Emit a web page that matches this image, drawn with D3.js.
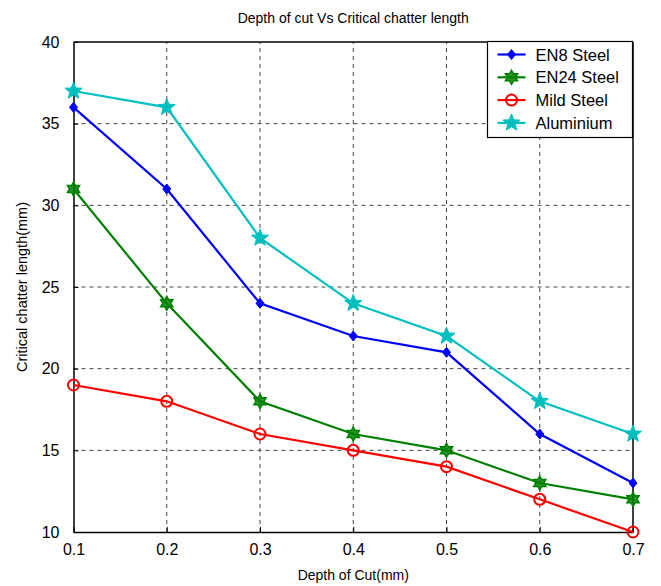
<!DOCTYPE html>
<html>
<head>
<meta charset="utf-8">
<script src="https://cdn.jsdelivr.net/npm/d3@7"></script>
<style>
  html, body { margin: 0; padding: 0; background: #fff; }
  svg { display: block; font-family: "Liberation Sans", Arial, Helvetica, sans-serif; }
</style>
</head>
<body>
<svg id="chart" width="661" height="586"></svg>
<script>
// Depth of cut (mm) on the x axis
const depths = [0.1, 0.2, 0.3, 0.4, 0.5, 0.6, 0.7];

// Critical chatter length (mm) for each material
const en8Steel  = [36, 31, 24, 22, 21, 16, 13];
const en24Steel = [31, 24, 18, 16, 15, 13, 12];
const mildSteel = [19, 18, 16, 15, 14, 12, 10];
const aluminium = [37, 36, 28, 24, 22, 18, 16];

const xTicks = [0.1, 0.2, 0.3, 0.4, 0.5, 0.6, 0.7];
const yTicks = [10, 15, 20, 25, 30, 35, 40];

const seriesNames  = ["EN8 Steel", "EN24 Steel", "Mild Steel", "Aluminium"];
const seriesValues = [en8Steel, en24Steel, mildSteel, aluminium];
const seriesColors = ["#0000ff", "#008000", "#ff0000", "#00bfbf"];
const seriesMarkers = ["diamond", "hexagram", "circle", "pentagram"];

const margin = { left: 73.5, right: 28, top: 42, bottom: 54 };
const W = 661, H = 586;

const svg = d3.select("#chart");
const x = d3.scaleLinear().domain([0.1, 0.7]).range([margin.left, W - margin.right]);
const y = d3.scaleLinear().domain([10, 40]).range([H - margin.bottom, margin.top]);

// Dashed grid lines
const grid = svg.append("g");
grid.selectAll("line.gx").data(xTicks.slice(1, -1)).join("line")
  .attr("x1", d => x(d)).attr("x2", d => x(d))
  .attr("y1", y(10)).attr("y2", y(40))
  .attr("stroke", "#444").attr("stroke-width", 1).attr("stroke-dasharray", "4,4");
grid.selectAll("line.gy").data(yTicks.slice(1, -1)).join("line")
  .attr("x1", x(0.1)).attr("x2", x(0.7))
  .attr("y1", d => y(d)).attr("y2", d => y(d))
  .attr("stroke", "#444").attr("stroke-width", 1).attr("stroke-dasharray", "4,4");

// Axes with inward ticks
const xAxis = svg.append("g").attr("transform", `translate(0,${y(10)})`)
  .call(d3.axisBottom(x).tickValues(xTicks).tickFormat(d3.format(".1f")).tickSizeInner(-5).tickSizeOuter(0).tickPadding(12));
const yAxis = svg.append("g").attr("transform", `translate(${x(0.1)},0)`)
  .call(d3.axisLeft(y).tickValues(yTicks).tickFormat(d3.format("d")).tickSizeInner(-5).tickSizeOuter(0).tickPadding(14));
[xAxis, yAxis].forEach(a => {
  a.select(".domain").attr("stroke", "#000").attr("stroke-width", 1.5);
  a.selectAll(".tick line").attr("stroke", "#000");
  a.selectAll(".tick text").attr("font-size", 16).attr("fill", "#000")
    .attr("font-family", "'Liberation Sans', Arial, sans-serif");
});
// Top/right box lines
svg.append("line").attr("x1", x(0.1)).attr("x2", x(0.7)).attr("y1", y(40)).attr("y2", y(40))
  .attr("stroke", "#000").attr("stroke-width", 1.5);
svg.append("line").attr("x1", x(0.7)).attr("x2", x(0.7)).attr("y1", y(40)).attr("y2", y(10))
  .attr("stroke", "#000").attr("stroke-width", 1.5);

// Marker shapes
function starPath(points, rOuter, rInner) {
  const pts = [];
  for (let i = 0; i < points * 2; i++) {
    const r = i % 2 === 0 ? rOuter : rInner;
    const a = -Math.PI / 2 + i * Math.PI / points;
    pts.push([r * Math.cos(a), r * Math.sin(a)]);
  }
  return "M" + pts.map(p => p[0].toFixed(2) + "," + p[1].toFixed(2)).join("L") + "Z";
}
function drawMarker(g, kind, color) {
  if (kind === "diamond") {
    g.append("path").attr("d", "M0,-5L4,0L0,5L-4,0Z").attr("fill", color).attr("stroke", color).attr("stroke-width", 1);
  } else if (kind === "hexagram") {
    g.append("path").attr("d", starPath(6, 7, 4)).attr("fill", color).attr("fill-opacity", 0.85)
      .attr("stroke", color).attr("stroke-width", 1.5);
  } else if (kind === "circle") {
    g.append("circle").attr("r", 5.5).attr("fill", "none").attr("stroke", color).attr("stroke-width", 2);
  } else if (kind === "pentagram") {
    g.append("path").attr("d", starPath(5, 9, 3.8)).attr("fill", color).attr("stroke", color).attr("stroke-width", 1);
  }
}

// Series lines and markers
const line = d3.line().x((d, i) => x(depths[i])).y(d => y(d));
seriesValues.forEach((vals, s) => {
  const g = svg.append("g");
  g.append("path").datum(vals).attr("d", line)
    .attr("fill", "none").attr("stroke", seriesColors[s]).attr("stroke-width", 2.2);
  vals.forEach((v, i) => {
    const m = g.append("g").attr("transform", `translate(${x(depths[i])},${y(v)})`);
    drawMarker(m, seriesMarkers[s], seriesColors[s]);
  });
});

// Legend
const lg = svg.append("g").attr("transform", "translate(487.5,41.5)");
lg.append("rect").attr("width", 145).attr("height", 96).attr("fill", "#fff").attr("stroke", "#000").attr("stroke-width", 1.2);
seriesNames.forEach((name, s) => {
  const yy = 13 + s * 22.8;
  lg.append("line").attr("x1", 10).attr("x2", 38).attr("y1", yy).attr("y2", yy)
    .attr("stroke", seriesColors[s]).attr("stroke-width", 2.2);
  drawMarker(lg.append("g").attr("transform", `translate(24,${yy})`), seriesMarkers[s], seriesColors[s]);
  lg.append("text").attr("x", 48).attr("y", yy + 6).attr("font-size", 16.5).attr("fill", "#000").text(name);
});

// Title and axis labels
svg.append("text").attr("x", (x(0.1) + x(0.7)) / 2).attr("y", 23).attr("text-anchor", "middle")
  .attr("font-size", 14).attr("fill", "#000").text("Depth of cut Vs Critical chatter length");
svg.append("text").attr("x", (x(0.1) + x(0.7)) / 2).attr("y", 580).attr("text-anchor", "middle")
  .attr("font-size", 14).attr("fill", "#000").text("Depth of Cut(mm)");
svg.append("text").attr("transform", `translate(27,${(y(10) + y(40)) / 2}) rotate(-90)`)
  .attr("text-anchor", "middle").attr("font-size", 14.5).attr("fill", "#000").text("Critical chatter length(mm)");
</script>
</body>
</html>
